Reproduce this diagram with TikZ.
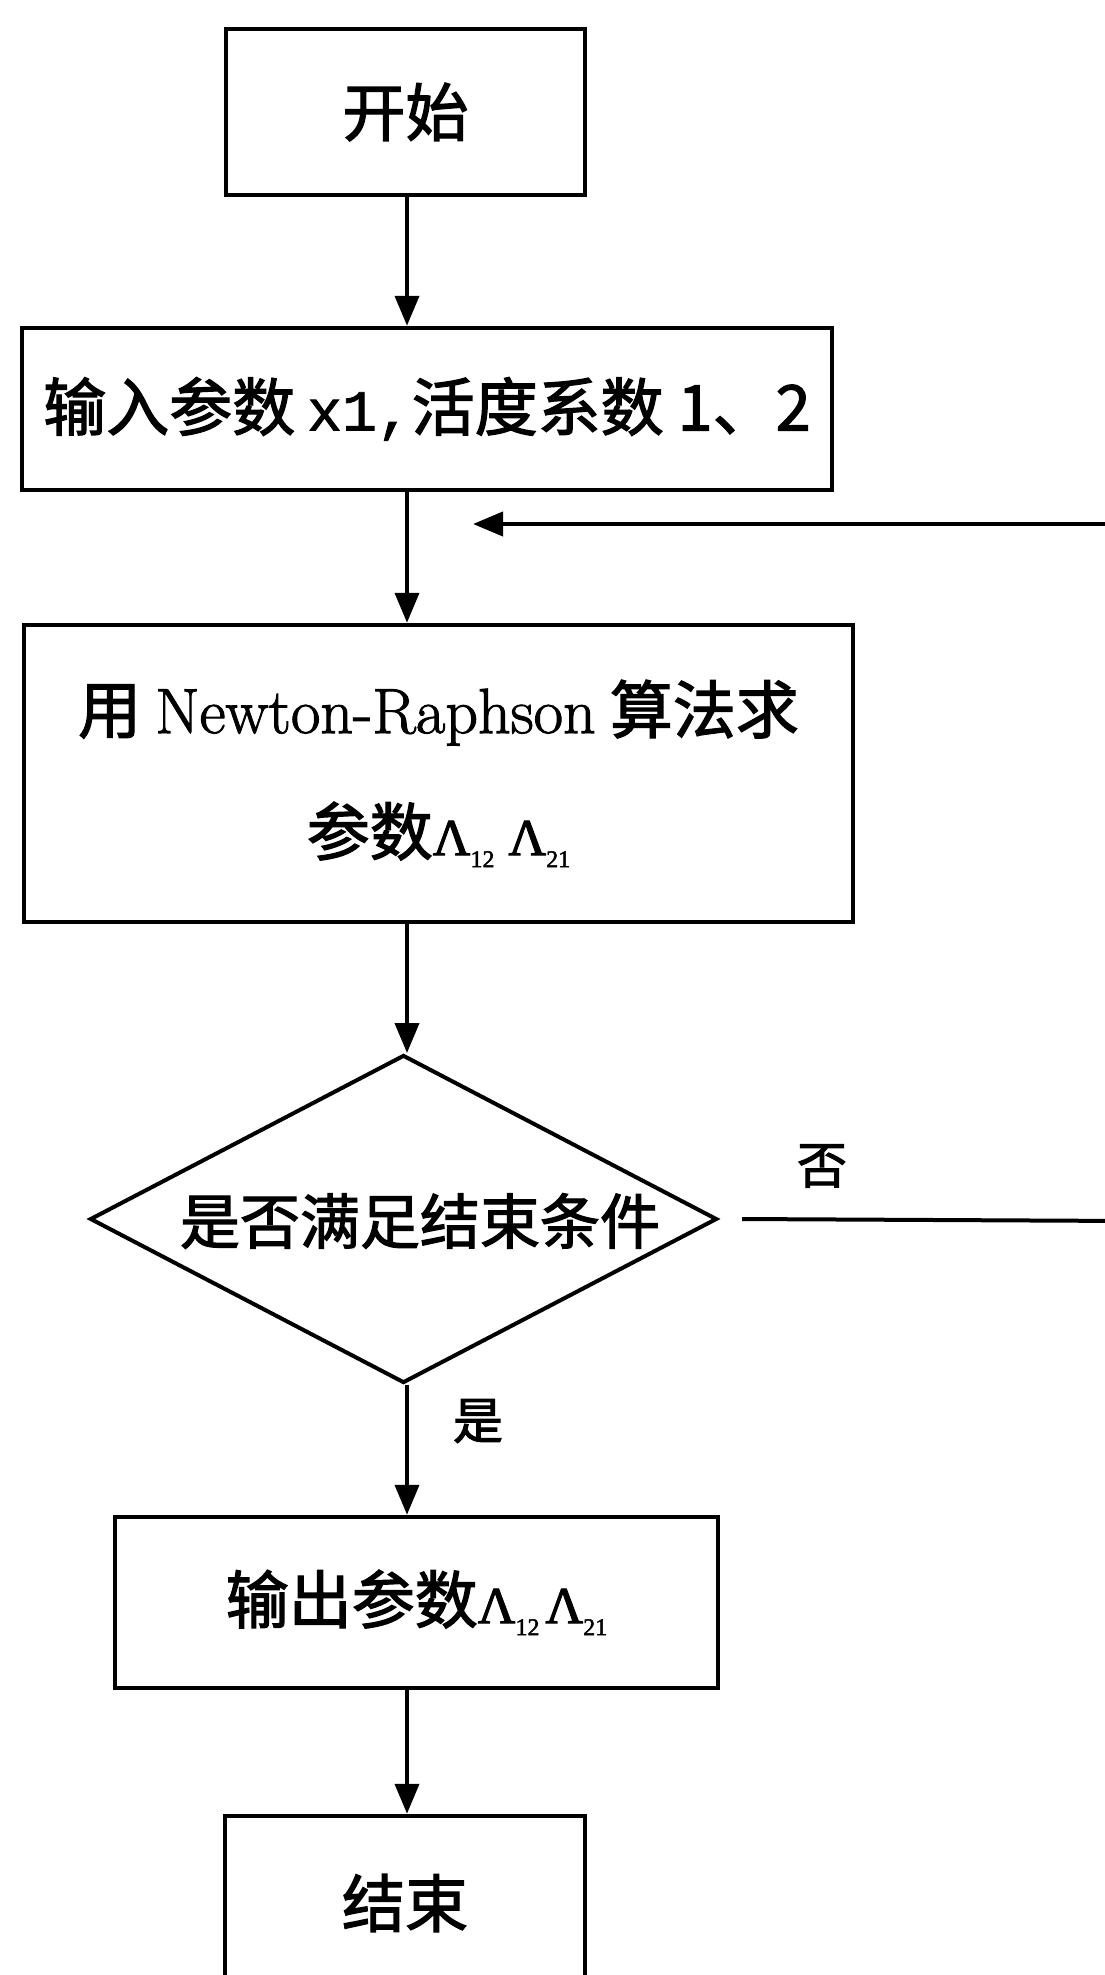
\documentclass[tikz,border=0pt]{standalone}
\usepackage{fontspec}
\usetikzlibrary{arrows.meta,shapes.geometric}
\newfontfamily\cjk{Noto Sans CJK SC}[FakeBold=2]
\newfontfamily\latinserif{Latin Modern Roman}[FakeBold=1.5]
\newfontfamily\grk{Liberation Serif}[FakeBold=2]
\newfontfamily\monof{Liberation Mono}[FakeBold=1.5]
\newcommand{\lam}[1]{{\grk\fontsize{52pt}{52pt}\selectfont Λ}\raisebox{-12pt}{\grk\fontsize{24pt}{24pt}\selectfont #1}}
\tikzset{
  box/.style={draw, line width=4.5pt, rectangle, inner sep=0pt, align=center,
    font=\cjk\fontsize{63pt}{122pt}\selectfont},
  decbox/.style={draw, line width=4pt, diamond, inner sep=0pt},
  lbl/.style={font=\cjk\fontsize{50pt}{60pt}\selectfont, inner sep=0pt},
  conn/.style={line width=4pt},
  arr/.style={line width=4pt, -{Triangle[width=24pt,length=30pt]}}
}
\begin{document}
\begin{tikzpicture}[x=1pt,y=-1pt]
\useasboundingbox (0,0) rectangle (1105,1975);
\clip (0,0) rectangle (1105,1975);
\fill[white] (0,0) rectangle (1105,1975);
\coordinate (trunk) at (407,0);
% nodes
\node[box, minimum width=359pt, minimum height=166pt] (start) at (405.5,112) {开始};
\node[box, minimum width=810pt, minimum height=162pt] (input) at (427,409)
  {输入参数\hspace{12pt}{\monof\fontsize{58pt}{60pt}\selectfont x1,}活度系数 1、2};
\node[box, minimum width=829pt, minimum height=297pt] (newton) at (438.5,773.5)
  {用 {\latinserif\fontsize{64pt}{64pt}\selectfont Newton-Raphson} 算法求\\参数\lam{12}\hspace{14pt}\lam{21}};
\node[decbox, minimum width=627pt, minimum height=328pt] (dec) at (403.5,1219) {};
\node[font=\cjk\fontsize{60pt}{72pt}\selectfont, inner sep=0pt] (dectxt) at (420,1221) {是否满足结束条件};
\node[box, minimum width=603pt, minimum height=171pt] (output) at (416.5,1602.5)
  {输出参数\lam{12}\hspace{6pt}\lam{21}};
\node[box, minimum width=360pt, minimum height=200pt] (finish) at (405,1916) {};
\node[font=\cjk\fontsize{63pt}{63pt}\selectfont, inner sep=0pt] (finishtxt) at (405,1903) {结束};
\node[lbl] (yes) at (478,1421) {是};
\node[lbl] (no) at (822,1166) {否};
\coordinate (loopR) at (1130,524);
\coordinate (loopEnd) at (473,524);
\coordinate (noR) at (1130,1221);
% connectors
\draw[arr] (start.south -| trunk) -- (input.north -| trunk);
\draw[arr] (input.south -| trunk) -- (newton.north -| trunk);
\draw[arr] (loopR) -- (loopEnd);
\draw[arr] (newton.south -| trunk) -- (dec.north -| trunk);
\draw[arr] (dec.south -| trunk) -- (output.north -| trunk);
\draw[conn] ([xshift=23pt]dec.east) -- (noR);
\draw[arr] (output.south -| trunk) -- (finish.north -| trunk);
\end{tikzpicture}
\end{document}
